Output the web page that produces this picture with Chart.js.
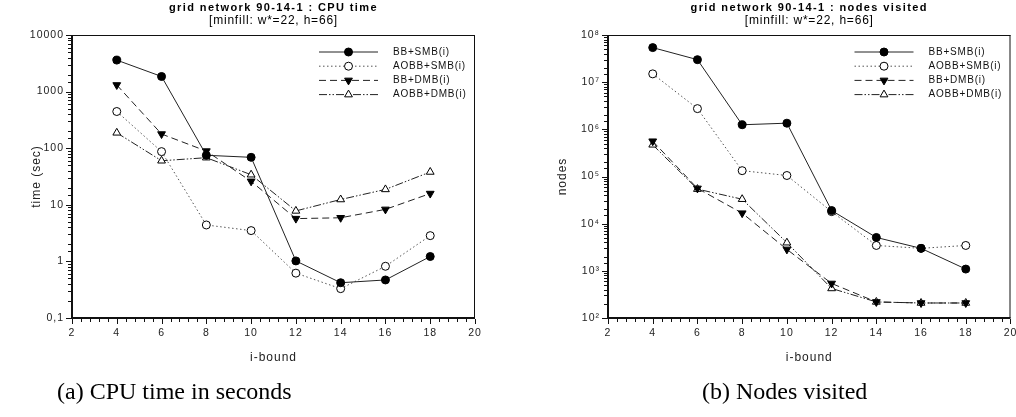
<!DOCTYPE html>
<html>
<head>
<meta charset="utf-8">
<script src="https://cdn.jsdelivr.net/npm/chart.js@4"></script>
<style>
  body { margin: 0; background: #fff; width: 1016px; height: 417px; overflow: hidden; position: relative; }
  canvas { position: absolute; top: 0; }
  .caption { position: absolute; top: 379px; line-height: 24px; font-family: "Liberation Serif", "Times New Roman", serif; font-size: 24px; color: #000; white-space: nowrap; }
</style>
</head>
<body>
<canvas id="cpuChart" width="508" height="417" style="left:0"></canvas>
<canvas id="nodesChart" width="508" height="417" style="left:508px"></canvas>
<div class="caption" style="left:57px">(a) CPU time in seconds</div>
<div class="caption" style="left:702px">(b) Nodes visited</div>
<script>
const iBound = [4, 6, 8, 10, 12, 14, 16, 18];
const seriesNames = ['BB+SMB(i)', 'AOBB+SMB(i)', 'BB+DMB(i)', 'AOBB+DMB(i)'];

// CPU time in seconds
const cpuBBSMB = [3600, 1850, 75, 69, 1.02, 0.42, 0.47, 1.22];
const cpuAOBBSMB = [445, 87, 4.4, 3.5, 0.62, 0.33, 0.82, 2.85];
const cpuBBDMB = [1310, 178, 89, 26, 5.7, 5.9, 8.3, 15.8];
const cpuAOBBDMB = [187, 60, 68, 34, 7.8, 12.4, 18.7, 38];

// nodes visited
const nodesBBSMB = [5.4e7, 3.0e7, 1.25e6, 1.35e6, 1.9e4, 5.1e3, 3.0e3, 1.09e3];
const nodesAOBBSMB = [1.5e7, 2.75e6, 1.33e5, 1.05e5, 1.8e4, 3.45e3, 3.0e3, 3.45e3];
const nodesBBDMB = [5.6e5, 5.6e4, 1.67e4, 2.85e3, 540, 219, 208, 208];
const nodesAOBBDMB = [4.7e5, 5.4e4, 3.3e4, 3.95e3, 423, 219, 208, 208];

const cpuTickValues = [0.1, 1, 10, 100, 1000, 10000];
const cpuTickLabels = ['0,1', '1', '10', '100', '1000', '10000'];
const nodesTickValues = [1e2, 1e3, 1e4, 1e5, 1e6, 1e7, 1e8];
const nodesTickLabels = ['10²', '10³', '10⁴', '10⁵', '10⁶', '10⁷', '10⁸'];

const FONT = '"Liberation Sans", Arial, sans-serif';

const seriesStyle = [
  { dash: [], color: '#222', pointStyle: 'circle', rotation: 0, fill: '#000', radius: 4 },
  { dash: [1.5, 2.5], color: '#555', pointStyle: 'circle', rotation: 0, fill: '#fff', radius: 4 },
  { dash: [7, 4], color: '#222', pointStyle: 'triangle', rotation: 180, fill: '#000', radius: 4.5 },
  { dash: [8, 2, 1.5, 2, 1.5, 2], color: '#222', pointStyle: 'triangle', rotation: 0, fill: '#fff', radius: 4.5 }
];

function makeDatasets(seriesList) {
  return seriesList.map((values, i) => {
    const s = seriesStyle[i];
    return {
      label: seriesNames[i],
      data: values.map((v, k) => ({ x: iBound[k], y: v })),
      borderColor: s.color,
      borderWidth: 1,
      borderDash: s.dash,
      pointStyle: s.pointStyle,
      pointRotation: s.rotation,
      pointRadius: s.radius,
      pointBackgroundColor: s.fill,
      pointBorderColor: '#000',
      pointBorderWidth: 1,
      tension: 0,
      fill: false
    };
  });
}

function isDecade(v) {
  const l = Math.log10(v);
  return Math.abs(l - Math.round(l)) < 1e-9;
}

// spaced-out lettering like the original figure
const spacingPlugin = {
  id: 'spacing',
  beforeUpdate(chart) { chart.ctx.letterSpacing = '1px'; },
  beforeDraw(chart) { chart.ctx.letterSpacing = '1px'; }
};

// box frame with major and minor tick marks
const framePlugin = {
  id: 'frame',
  beforeDatasetsDraw(chart) {
    const { ctx, chartArea: a, scales: { x, y } } = chart;
    ctx.save();
    ctx.strokeStyle = '#111';
    ctx.lineWidth = 1;
    ctx.beginPath();
    ctx.moveTo(a.left, a.top + 0.5); ctx.lineTo(a.right, a.top + 0.5);
    ctx.moveTo(a.right - 0.5, a.top); ctx.lineTo(a.right - 0.5, a.bottom);
    ctx.stroke();

    ctx.lineWidth = 2;
    ctx.beginPath();
    ctx.moveTo(a.left, a.top); ctx.lineTo(a.left, a.bottom); ctx.lineTo(a.right, a.bottom);
    ctx.stroke();

    ctx.lineWidth = 1;
    ctx.beginPath();
    y.ticks.forEach(t => {
      const py = Math.round(y.getPixelForValue(t.value)) + 0.5;
      const len = isDecade(t.value) ? 5 : 3;
      ctx.moveTo(a.left - 1, py); ctx.lineTo(a.left - 1 - len, py);
    });
    for (let v = x.min; v <= x.max + 1e-9; v += 0.4) {
      const px = Math.round(x.getPixelForValue(v)) + 0.5;
      const major = Math.abs(v / 2 - Math.round(v / 2)) < 1e-6;
      ctx.moveTo(px, a.bottom + 1); ctx.lineTo(px, a.bottom + 1 + (major ? 5 : 3));
    }
    ctx.stroke();
    ctx.restore();
  }
};

// two line title centred over the plot
const titlePlugin = {
  id: 'twoLineTitle',
  afterDraw(chart, args, opts) {
    const { ctx, chartArea: a } = chart;
    const cx = (a.left + a.right) / 2;
    ctx.save();
    ctx.fillStyle = '#000';
    ctx.textAlign = 'center';
    ctx.textBaseline = 'middle';
    ctx.letterSpacing = '1.4px';
    ctx.font = 'bold 11px ' + FONT;
    ctx.fillText(opts.text, cx, 8);
    ctx.letterSpacing = '0.8px';
    ctx.font = '12px ' + FONT;
    ctx.fillText(opts.subtext, cx, 21);
    ctx.restore();
  }
};

// legend: line sample with marker in the middle
const lineLegendPlugin = {
  id: 'lineLegend',
  afterDatasetsDraw(chart) {
    const { ctx, chartArea: a } = chart;
    chart.data.datasets.forEach((ds, i) => {
      const y = a.top + 17 + i * 14.2;
      const x0 = a.right - 156, x1 = a.right - 97;
      ctx.save();
      ctx.strokeStyle = ds.borderColor;
      ctx.lineWidth = 1;
      ctx.setLineDash(ds.borderDash);
      ctx.beginPath();
      ctx.moveTo(x0, y); ctx.lineTo(x1, y);
      ctx.stroke();
      ctx.setLineDash([]);
      ctx.fillStyle = ds.pointBackgroundColor;
      ctx.strokeStyle = ds.pointBorderColor;
      Chart.helpers.drawPoint(ctx, {
        pointStyle: ds.pointStyle, rotation: ds.pointRotation,
        radius: ds.pointRadius, borderWidth: 1
      }, (x0 + x1) / 2, y);
      ctx.fillStyle = '#111';
      ctx.letterSpacing = '0.8px';
      ctx.font = '10px ' + FONT;
      ctx.textBaseline = 'middle';
      ctx.fillText(ds.label, a.right - 82, y);
      ctx.restore();
    });
  }
};

function makeChart(canvasId, seriesList, cfg) {
  const ctx = document.getElementById(canvasId).getContext('2d');
  return new Chart(ctx, {
    type: 'line',
    data: { datasets: makeDatasets(seriesList) },
    plugins: [spacingPlugin, framePlugin, titlePlugin, lineLegendPlugin],
    options: {
      responsive: false,
      animation: false,
      devicePixelRatio: 1,
      layout: { padding: { left: 0, top: 35, right: cfg.padRight, bottom: 0 } },
      plugins: {
        legend: { display: false },
        tooltip: { enabled: false },
        twoLineTitle: { text: cfg.title, subtext: '[minfill: w*=22, h=66]' }
      },
      scales: {
        x: {
          type: 'linear',
          min: 2,
          max: 20,
          grid: { display: false, drawTicks: false },
          border: { display: false },
          ticks: { stepSize: 2, padding: 9, color: '#222', font: { family: FONT, size: 10.5 } },
          title: { display: true, text: 'i-bound', color: '#222', font: { family: FONT, size: 12 }, padding: { bottom: 52 } },
          afterFit(scale) { scale.height = 99; scale.paddingLeft = 0; scale.paddingRight = 0; }
        },
        y: {
          type: 'logarithmic',
          min: cfg.tickValues[0],
          max: cfg.tickValues[cfg.tickValues.length - 1],
          grid: { display: false, drawTicks: false },
          border: { display: false },
          ticks: {
            autoSkip: false,
            padding: 8,
            color: '#222',
            font: { family: FONT, size: 10.5 },
            callback: (v) => {
              const k = cfg.tickValues.findIndex(t => Math.abs(t - v) / t < 1e-6);
              return k >= 0 ? cfg.tickLabels[k] : '';
            }
          },
          title: { display: true, text: cfg.yTitle, color: '#222', font: { family: FONT, size: 12 }, padding: { top: cfg.yTitlePad } },
          afterFit(scale) { scale.width = cfg.yWidth; scale.paddingTop = 0; scale.paddingBottom = 0; }
        }
      }
    }
  });
}

makeChart('cpuChart', [cpuBBSMB, cpuAOBBSMB, cpuBBDMB, cpuAOBBDMB], {
  title: 'grid network 90-14-1 : CPU time',
  yTitle: 'time (sec)',
  yTitlePad: 29,
  yWidth: 72,
  padRight: 33,
  tickValues: cpuTickValues,
  tickLabels: cpuTickLabels
});

makeChart('nodesChart', [nodesBBSMB, nodesAOBBSMB, nodesBBDMB, nodesAOBBDMB], {
  title: 'grid network 90-14-1 : nodes visited',
  yTitle: 'nodes',
  yTitlePad: 47,
  yWidth: 100,
  padRight: 5,
  tickValues: nodesTickValues,
  tickLabels: nodesTickLabels
});
</script>
</body>
</html>
